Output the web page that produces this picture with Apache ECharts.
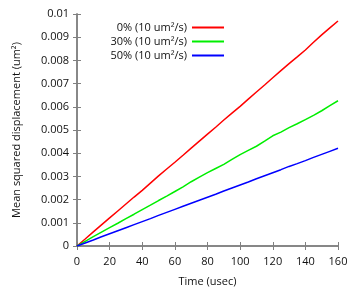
<!DOCTYPE html>
<html><head><meta charset="utf-8">
<script src="https://cdn.jsdelivr.net/npm/echarts@6/dist/echarts.min.js"></script>
<style>html,body{margin:0;padding:0;background:#fff}#c{width:360px;height:300px}</style>
</head><body><div id="c"></div>
<script>
const times = [0,5,10,15,20,25,30,35,40,45,50,55,60,65,70,75,80,85,90,95,100,105,110,115,120,125,130,135,140,145,150,155,160];
const red0 = [0,0.00030,0.00061,0.00091,0.00121,0.00151,0.00181,0.00211,0.00240,0.00271,0.00302,0.00332,0.00361,0.00391,0.00422,0.00452,0.00482,0.00512,0.00543,0.00573,0.00602,0.00633,0.00664,0.00694,0.00725,0.00756,0.00786,0.00815,0.00845,0.00878,0.00910,0.00940,0.00970];
const green30 = [0,0.00020,0.00040,0.00060,0.00079,0.00098,0.00118,0.00137,0.00157,0.00176,0.00196,0.00215,0.00235,0.00255,0.00277,0.00297,0.00316,0.00334,0.00352,0.00373,0.00394,0.00412,0.00430,0.00452,0.00475,0.00491,0.00510,0.00527,0.00545,0.00563,0.00583,0.00605,0.00626];
const blue50 = [0,0.00013,0.00026,0.00040,0.00053,0.00066,0.00079,0.00092,0.00105,0.00118,0.00132,0.00145,0.00158,0.00171,0.00184,0.00197,0.00210,0.00223,0.00237,0.00250,0.00263,0.00276,0.00290,0.00303,0.00316,0.00329,0.00343,0.00355,0.00368,0.00382,0.00395,0.00408,0.00421];
const seriesNames = ['0% (10 um²/s)','30% (10 um²/s)','50% (10 um²/s)'];
const seriesColors = ['#ff0000','#00ee00','#0000ff'];
const xName = 'Time (usec)';
const yName = 'Mean squared displacement (um²)';

const font = 'Open Sans';
const axisLine = {show:true, lineStyle:{color:'#808080', width:1.5}};
const axisTick = {show:true, inside:true, length:4, lineStyle:{color:'#808080', width:1}};
const pair = (arr)=>times.map((t,i)=>[t,arr[i]]);
const chart = echarts.init(document.getElementById('c'), null, {renderer:'canvas'});
chart.setOption({
  animation:false,
  backgroundColor:'#fff',
  textStyle:{fontFamily:font},
  grid:{left:77,right:22,top:14,bottom:54},
  legend:{
    orient:'vertical', align:'right', right:131, top:17, itemGap:3,
    itemWidth:32, itemHeight:2, icon:'rect',
    textStyle:{fontFamily:font, fontSize:11, color:'#111'},
    data:seriesNames
  },
  xAxis:[
    {type:'value', min:0, max:160, interval:20, axisLine, axisTick, splitLine:{show:false},
     axisLabel:{fontFamily:font, fontSize:11, color:'#111', margin:10},
     name:xName, nameLocation:'middle', nameGap:30, nameTextStyle:{fontFamily:font, fontSize:11, color:'#111'}},
    {type:'value', position:'top', min:0, max:160, interval:20, axisLine, axisTick, splitLine:{show:false}, axisLabel:{show:false}}
  ],
  yAxis:[
    {type:'value', min:0, max:0.01, interval:0.001, axisLine, axisTick, splitLine:{show:false},
     axisLabel:{fontFamily:font, fontSize:11, color:'#111', margin:8, formatter:(v)=>v===0?'0':String(+v.toFixed(3))},
     name:yName, nameLocation:'middle', nameGap:55, nameTextStyle:{fontFamily:font, fontSize:11, color:'#111'}},
    {type:'value', position:'right', min:0, max:0.01, interval:0.001, axisLine, axisTick, splitLine:{show:false}, axisLabel:{show:false}}
  ],
  series:[red0,green30,blue50].map((d,i)=>({
    name:seriesNames[i], type:'line', data:pair(d), showSymbol:false, symbol:'none',
    lineStyle:{color:seriesColors[i], width:1.5}, itemStyle:{color:seriesColors[i]}
  }))
});
</script></body></html>
